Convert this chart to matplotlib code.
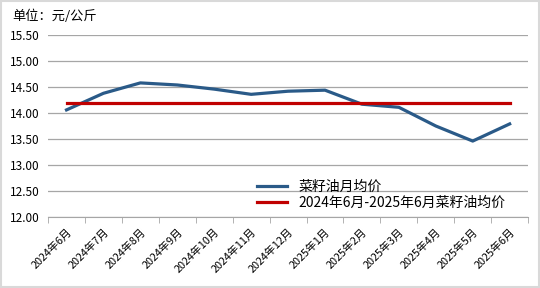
import matplotlib
matplotlib.use("Agg")
import matplotlib.pyplot as plt
import numpy as np

plt.rcParams['font.family'] = ['Noto Sans CJK SC', 'DejaVu Sans']

months = ["2024年6月", "2024年7月", "2024年8月", "2024年9月", "2024年10月",
          "2024年11月", "2024年12月", "2025年1月", "2025年2月", "2025年3月",
          "2025年4月", "2025年5月", "2025年6月"]
monthly_price = [14.06, 14.38, 14.58, 14.54, 14.46, 14.36, 14.42,
                 14.44, 14.17, 14.11, 13.75, 13.46, 13.79]
avg_price = [14.19] * len(months)

fig = plt.figure(figsize=(5.4, 2.88), dpi=100)
ax = fig.add_axes([0.089, 0.247, 0.889, 0.631])

x = np.arange(len(months))
ax.plot(x, monthly_price, color="#2A5A88", lw=2.3, label="菜籽油月均价", zorder=3)
ax.plot(x, avg_price, color="#C00000", lw=2.3, label="2024年6月-2025年6月菜籽油均价", zorder=3)

ax.set_xlim(-0.5, len(months) - 0.5)
ax.set_ylim(12.0, 15.5)
ax.set_yticks(np.arange(12.0, 15.51, 0.5))
ax.set_yticklabels([f"{v:.2f}" for v in np.arange(12.0, 15.51, 0.5)], fontsize=8.5)
ax.yaxis.grid(True, color="#A6A6A6", lw=0.9)
ax.set_axisbelow(True)
ax.tick_params(axis="y", length=0, pad=6)

ax.set_xticks(x)
ax.set_xticklabels(months, rotation=45, ha="right", rotation_mode="anchor", fontsize=7.8)
ax.set_xticks(np.arange(-0.5, len(months), 1), minor=True)
ax.tick_params(axis="x", which="major", length=0, pad=7)
ax.tick_params(axis="x", which="minor", length=4, color="#A6A6A6")

for s in ["top", "right", "left"]:
    ax.spines[s].set_visible(False)
ax.spines["bottom"].set_color("#A6A6A6")

ax.legend(loc="lower right", bbox_to_anchor=(0.97, -0.01), frameon=False,
          fontsize=10, handlelength=2.2, labelspacing=0.2, borderaxespad=0.2)

fig.text(0.022, 0.945, "单位：元/公斤", fontsize=9.5, va="center", ha="left")

fig.patches.append(plt.Rectangle((0.001, 0.002), 0.997, 0.995, transform=fig.transFigure,
                                 fill=False, edgecolor="#D9D9D9", lw=1.5))

fig.savefig("out.png", dpi=100)
